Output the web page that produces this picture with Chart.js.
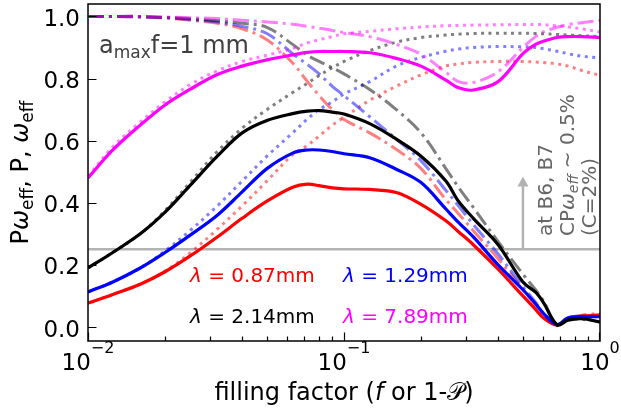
<!DOCTYPE html>
<html>
<head>
<meta charset="utf-8">
<script src="https://cdn.jsdelivr.net/npm/chart.js@4/dist/chart.umd.min.js"></script>
<style>
  html, body { margin: 0; padding: 0; background: #fff; }
</style>
</head>
<body>
<canvas id="chart" width="621" height="413"></canvas>
<script>
// filling factor grid (f or 1-P)
const fillingFactor = [0.01, 0.0125, 0.016, 0.02, 0.025, 0.032, 0.04, 0.05, 0.063, 0.072, 0.08, 0.09, 0.1,
  0.126, 0.16, 0.2, 0.25, 0.28, 0.32, 0.4, 0.5, 0.56, 0.6, 0.68, 0.75, 0.85, 1.0];

// P*omega_eff (solid)
const pw087 = [0.077, 0.105, 0.138, 0.178, 0.228, 0.29, 0.35, 0.405, 0.45, 0.46, 0.455, 0.448, 0.445,
  0.443, 0.433, 0.395, 0.342, 0.307, 0.265, 0.186, 0.1, 0.057, 0.03, 0.006, 0.025, 0.035, 0.039];
const pw129 = [0.113, 0.145, 0.19, 0.24, 0.295, 0.36, 0.435, 0.51, 0.56, 0.57, 0.57, 0.565, 0.558,
  0.545, 0.508, 0.465, 0.38, 0.337, 0.29, 0.2, 0.12, 0.075, 0.045, 0.008, 0.03, 0.033, 0.033];
const pw214 = [0.19, 0.24, 0.3, 0.37, 0.455, 0.55, 0.625, 0.665, 0.687, 0.695, 0.697, 0.692, 0.686,
  0.655, 0.605, 0.55, 0.47, 0.405, 0.35, 0.265, 0.145, 0.112, 0.08, 0.007, 0.022, 0.027, 0.016];
const pw789 = [0.48, 0.57, 0.65, 0.715, 0.765, 0.813, 0.84, 0.86, 0.876, 0.884, 0.887, 0.887, 0.887,
  0.883, 0.865, 0.84, 0.795, 0.77, 0.763, 0.79, 0.88, 0.91, 0.92, 0.932, 0.935, 0.935, 0.932];

// omega_eff (dotted)
const om087 = [0.077, 0.105, 0.138, 0.18, 0.238, 0.315, 0.39, 0.47, 0.555, 0.585, 0.615, 0.65, 0.675,
  0.73, 0.775, 0.812, 0.84, 0.847, 0.852, 0.855, 0.855, 0.853, 0.852, 0.847, 0.84, 0.826, 0.81];
const om129 = [0.113, 0.145, 0.19, 0.245, 0.31, 0.39, 0.47, 0.55, 0.625, 0.67, 0.7, 0.725, 0.75,
  0.79, 0.84, 0.868, 0.888, 0.895, 0.9, 0.903, 0.902, 0.9, 0.896, 0.888, 0.88, 0.872, 0.866];
const om214 = [0.19, 0.24, 0.3, 0.375, 0.465, 0.565, 0.64, 0.7, 0.755, 0.785, 0.81, 0.835, 0.855,
  0.89, 0.917, 0.932, 0.94, 0.943, 0.945, 0.946, 0.946, 0.945, 0.944, 0.942, 0.94, 0.938, 0.935];
const om789 = [0.485, 0.58, 0.66, 0.725, 0.78, 0.825, 0.855, 0.875, 0.897, 0.915, 0.925, 0.935, 0.944,
  0.952, 0.96, 0.966, 0.97, 0.971, 0.972, 0.973, 0.974, 0.974, 0.973, 0.97, 0.966, 0.96, 0.95];

// P (dash-dot)
const pp087 = [1.0, 1.0, 0.998, 0.995, 0.988, 0.978, 0.96, 0.925, 0.85, 0.79, 0.745, 0.7, 0.668,
  0.625, 0.572, 0.51, 0.41, 0.365, 0.31, 0.22, 0.12, 0.07, 0.04, 0.007, 0.028, 0.038, 0.044];
const pp129 = [1.0, 1.0, 0.998, 0.996, 0.99, 0.982, 0.968, 0.945, 0.88, 0.845, 0.815, 0.775, 0.745,
  0.677, 0.605, 0.535, 0.44, 0.39, 0.33, 0.235, 0.13, 0.08, 0.045, 0.007, 0.03, 0.035, 0.035];
const pp214 = [1.0, 1.0, 1.0, 0.997, 0.993, 0.986, 0.978, 0.965, 0.91, 0.875, 0.855, 0.835, 0.815,
  0.765, 0.7, 0.625, 0.51, 0.45, 0.385, 0.275, 0.17, 0.12, 0.085, 0.007, 0.025, 0.025, 0.018];
const pp789 = [1.0, 1.0, 1.0, 0.998, 0.996, 0.993, 0.988, 0.982, 0.975, 0.968, 0.962, 0.955, 0.948,
  0.935, 0.91, 0.878, 0.82, 0.79, 0.787, 0.822, 0.9, 0.935, 0.95, 0.965, 0.974, 0.98, 0.987];

const wavelengths = ['0.87', '1.29', '2.14', '7.89'];
const yTicks = [0, 0.2, 0.4, 0.6, 0.8, 1.0];
const yTickLabels = ['0.0', '0.2', '0.4', '0.6', '0.8', '1.0'];
const xTicks = [0.01, 0.1, 1];
const xTickExp = ['\u22122', '\u22121', '0'];
const cutRange = [0.01, 1];
const cutLevel = 0.25;
const arrowAt = 0.5;
const arrowTop = 0.485;

const FONT = '"DejaVu Sans", "Liberation Sans", sans-serif';

function pts(arr) {
  return arr.map((v, i) => ({ x: fillingFactor[i], y: v }));
}

function line(data, color, width, dash) {
  return {
    data: data,
    borderColor: color,
    borderWidth: width,
    borderDash: dash || [],
    borderJoinStyle: 'round',
    borderCapStyle: 'butt',
    pointRadius: 0,
    tension: 0.35,
    fill: false
  };
}

let sets = [];
sets.push(line(cutRange.map(v => ({ x: v, y: cutLevel })), '#b3b3b3', 2.5));

const solid = ['#ff0000', '#0000ff', '#000000', '#ff00ff'];
const light = ['rgba(255,0,0,0.5)', 'rgba(0,0,255,0.5)', 'rgba(0,0,0,0.5)', 'rgba(255,0,255,0.5)'];
const pw = [pw087, pw129, pw214, pw789];
const om = [om087, om129, om214, om789];
const pp = [pp087, pp129, pp214, pp789];

for (let i = 0; i < 4; i++) {
  sets.push(line(pts(om[i]), light[i], 3, [3, 4.5]));
  sets.push(line(pts(pp[i]), light[i], 3, [16, 5, 3, 5]));
  sets.push(line(pts(pw[i]), solid[i], 3.2));
}
// first pushed gets drawn first
sets.forEach((d, i) => d.order = sets.length - i);

// text pieces drawn one after another on a baseline
function rich(ctx, x, y, parts, color, align) {
  let w = 0;
  parts.forEach(p => {
    ctx.font = (p.it ? 'italic ' : '') + p.size + 'px ' + FONT;
    w += ctx.measureText(p.t).width;
  });
  let cx = x;
  if (align === 'center') cx = x - w / 2;
  ctx.fillStyle = color;
  ctx.textAlign = 'left';
  ctx.textBaseline = 'alphabetic';
  parts.forEach(p => {
    ctx.font = (p.it ? 'italic ' : '') + p.size + 'px ' + FONT;
    ctx.fillText(p.t, cx, y + (p.dy || 0));
    cx += ctx.measureText(p.t).width;
  });
}

const decor = {
  id: 'decor',
  afterDatasetsDraw(chart) {
    const { ctx, chartArea: a, scales } = chart;
    const xs = scales.x, ys = scales.y;
    ctx.save();

    // frame
    ctx.strokeStyle = '#000';
    ctx.lineWidth = 1.5;
    ctx.strokeRect(a.left, a.top, a.right - a.left, a.bottom - a.top);

    // ticks (inward)
    ctx.lineWidth = 1.2;
    ctx.beginPath();
    yTicks.forEach(v => {
      const py = Math.round(ys.getPixelForValue(v)) + 0.5;
      ctx.moveTo(a.left, py); ctx.lineTo(a.left + 8.5, py);
    });
    for (let d = -2; d < 0; d++) {
      for (let m = 1; m <= 9; m++) {
        const px = Math.round(xs.getPixelForValue(m * Math.pow(10, d))) + 0.5;
        const len = m === 1 ? 8.5 : 4.5;
        ctx.moveTo(px, a.bottom); ctx.lineTo(px, a.bottom - len);
      }
    }
    const pEnd = Math.round(xs.getPixelForValue(1)) - 0.5;
    ctx.moveTo(pEnd, a.bottom); ctx.lineTo(pEnd, a.bottom - 8.5);
    ctx.stroke();

    // y tick labels
    ctx.fillStyle = '#000';
    ctx.font = '23px ' + FONT;
    ctx.textAlign = 'right';
    ctx.textBaseline = 'alphabetic';
    yTicks.forEach((v, i) => {
      ctx.fillText(yTickLabels[i], 80, ys.getPixelForValue(v) + 9.5);
    });

    // x tick labels 10^n
    xTicks.forEach((v, i) => {
      rich(ctx, xs.getPixelForValue(v), 370, [
        { t: '10', size: 23 },
        { t: xTickExp[i], size: 16, dy: -17 }
      ], '#000', 'center');
    });

    // axis titles
    rich(ctx, (a.left + a.right) / 2, 400, [
      { t: 'filling factor (', size: 24 },
      { t: 'f', size: 24, it: true },
      { t: ' or 1-', size: 24 },
      { t: '\uD835\uDCAB', size: 24 },
      { t: ')', size: 24 }
    ], '#000', 'center');

    ctx.save();
    ctx.translate(28, (a.top + a.bottom) / 2);
    ctx.rotate(-Math.PI / 2);
    rich(ctx, 0, 0, [
      { t: 'P', size: 24 },
      { t: '\u03C9', size: 24, it: true },
      { t: 'eff', size: 17, dy: 5 },
      { t: ', P, ', size: 24 },
      { t: '\u03C9', size: 24, it: true },
      { t: 'eff', size: 17, dy: 5 }
    ], '#000', 'center');
    ctx.restore();

    // a_max f = 1 mm
    rich(ctx, 99, 53, [
      { t: 'a', size: 24 },
      { t: 'max', size: 17, dy: 5 },
      { t: 'f=1 mm', size: 24 }
    ], '#404040');

    // wavelength labels
    const labPos = [[190, 282], [343, 282], [190, 323], [343, 323]];
    wavelengths.forEach((w, i) => {
      rich(ctx, labPos[i][0], labPos[i][1], [
        { t: '\u03BB', size: 20, it: true },
        { t: ' = ' + w + 'mm', size: 20 }
      ], solid[i]);
    });

    // arrow at the cut level
    const ax = xs.getPixelForValue(arrowAt);
    const ay0 = ys.getPixelForValue(cutLevel);
    const ay1 = ys.getPixelForValue(arrowTop);
    ctx.strokeStyle = '#b3b3b3';
    ctx.fillStyle = '#b3b3b3';
    ctx.lineWidth = 2.5;
    ctx.beginPath();
    ctx.moveTo(ax, ay0); ctx.lineTo(ax, ay1 + 9);
    ctx.stroke();
    ctx.beginPath();
    ctx.moveTo(ax, ay1); ctx.lineTo(ax - 5.5, ay1 + 10); ctx.lineTo(ax + 5.5, ay1 + 10);
    ctx.closePath(); ctx.fill();

    // rotated note
    const notes = [
      [552, [{ t: 'at B6, B7', size: 20 }]],
      [574, [{ t: 'CP', size: 20 }, { t: '\u03C9', size: 20, it: true }, { t: 'eff', size: 14, it: true, dy: 4 },
             { t: ' ~ 0.5%', size: 20 }]],
      [596, [{ t: '(C=2%)', size: 20 }]]
    ];
    notes.forEach(n => {
      ctx.save();
      ctx.translate(n[0], 236);
      ctx.rotate(-Math.PI / 2);
      rich(ctx, 0, 0, n[1], '#666666');
      ctx.restore();
    });

    ctx.restore();
  }
};

new Chart(document.getElementById('chart'), {
  type: 'line',
  data: { datasets: sets },
  options: {
    responsive: false,
    animation: false,
    devicePixelRatio: 1,
    layout: { padding: { left: 0, right: 21, top: 4, bottom: 0 } },
    plugins: { legend: { display: false }, tooltip: { enabled: false } },
    scales: {
      x: {
        type: 'logarithmic',
        min: 0.01,
        max: 1,
        grid: { display: false },
        border: { display: false },
        ticks: { display: false },
        afterFit: s => { s.height = 72; }
      },
      y: {
        min: -0.045,
        max: 1.04,
        grid: { display: false },
        border: { display: false },
        ticks: { display: false },
        afterFit: s => { s.width = 88; }
      }
    }
  },
  plugins: [decor]
});
</script>
</body>
</html>
